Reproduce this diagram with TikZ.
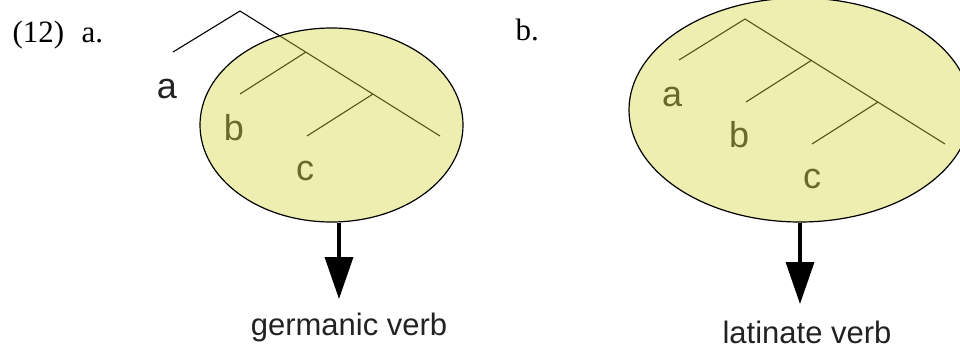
\documentclass[tikz,border=0pt]{standalone}
\usepackage{fontspec}
\setmainfont{Liberation Serif}
\newfontfamily\labelsans{Liberation Sans}
\usetikzlibrary{shapes.geometric,arrows.meta}
\definecolor{bubblefill}{RGB}{212,212,58}
\definecolor{inkgray}{RGB}{34,34,34}

\begin{document}
\begin{tikzpicture}[x=1pt,y=-1pt,>=Latex]
  \tikzset{
    branch/.style={draw=black,line width=1.1pt},
    bubble/.style={ellipse,draw=black,line width=1.2pt,fill=bubblefill,fill opacity=0.4,inner sep=0pt},
    leaf/.style={anchor=base,text=inkgray,font=\labelsans\fontsize{36}{40}\selectfont},
    caption/.style={anchor=base,text=inkgray,font=\labelsans\fontsize{31}{36}\selectfont},
    exnum/.style={anchor=base west,font=\fontsize{31}{36}\selectfont},
    verbarrow/.style={draw=black,line width=3.5pt,-{Triangle[width=28pt,length=42pt]}},
  }
  \useasboundingbox (0,0) rectangle (960,348);
  \clip (0,0) rectangle (960,348);

  % (12a): a outside the domain
  \coordinate (aTop) at (240,11);  \coordinate (aA) at (173,52);
  \coordinate (aN1) at (306,52);   \coordinate (aB) at (240,94);
  \coordinate (aN2) at (373,94);   \coordinate (aC) at (307,136);
  \coordinate (aEnd) at (440,136);
  \draw[branch] (aA)--(aTop)--(aEnd) (aN1)--(aB) (aN2)--(aC);
  \node[leaf] (aLa) at (167,98) {a};
  \node[leaf] (aLb) at (234,140) {b};
  \node[leaf] (aLc) at (305,180) {c};
  \node[bubble,minimum width=263pt,minimum height=194pt] (aDom) at (331.5,125) {};

  % (12b): a, b, c all inside
  \coordinate (bTop) at (745,19);  \coordinate (bA) at (679,60);
  \coordinate (bN1) at (812,60);   \coordinate (bB) at (746,102);
  \coordinate (bN2) at (878,102);  \coordinate (bC) at (812,144);
  \coordinate (bEnd) at (945,144);
  \draw[branch] (bA)--(bTop)--(bEnd) (bN1)--(bB) (bN2)--(bC);
  \node[leaf] (bLa) at (672,106) {a};
  \node[leaf] (bLb) at (739,147) {b};
  \node[leaf] (bLc) at (812,188) {c};
  \node[bubble,minimum width=342pt,minimum height=224pt] (bDom) at (800,110) {};

  % outputs
  \coordinate (aTip) at (339,299);
  \coordinate (bTip) at (800,304);
  \draw[verbarrow] (aDom.south -| aTip) -- (aTip);
  \draw[verbarrow] (bDom.south -| bTip) -- (bTip);
  \node[caption] (aVerb) at (349,335) {germanic verb};
  \node[caption] (bVerb) at (807,343) {latinate verb};

  \node[exnum] (exNo) at (9,42) {(12)};
  \node[exnum] (exA) at (78,42) {a.};
  \node[exnum] (exB) at (512,40) {b.};
\end{tikzpicture}
\end{document}
